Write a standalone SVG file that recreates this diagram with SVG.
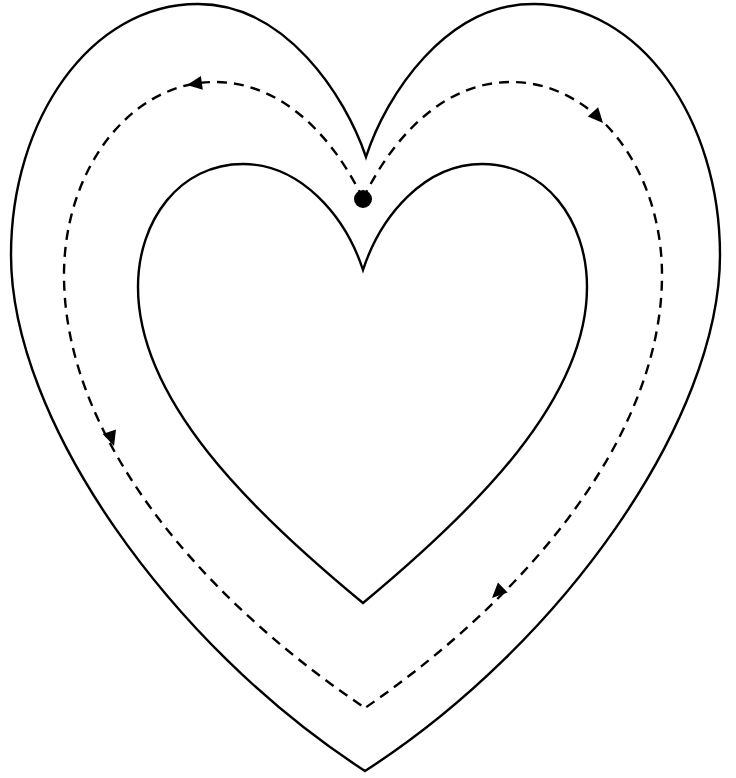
<svg xmlns="http://www.w3.org/2000/svg" xmlns:xlink="http://www.w3.org/1999/xlink" width="736" height="778" viewBox="0 0 736 778">
  <style>
    .heart { fill: none; stroke: #000; stroke-width: 2.4; stroke-linejoin: miter; }
    .flow { fill: none; stroke: #000; stroke-width: 2.4; stroke-dasharray: 10 7; }
    .head { fill: #000; stroke: none; }
  </style>
  <defs>
    <polygon id="arrow" class="head" points="0,0 -15,-7 -15,7"/>
  </defs>
  <rect width="736" height="778" fill="#fff"/>
  <g id="outer-heart">
    <path class="heart" d="M366,157 C345,95 285,4 198,4 C90,4 11,120 11,255 C11,420 170,645 365,771 C561,645 720,420 720,255 C720,120 641,4 533,4 C446,4 386,95 366,157 Z"/>
  </g>
  <g id="inner-heart">
    <path class="heart" d="M363,270 C345,215 300,164 243,164 C180,164 138,220 138,287 C138,400 250,510 363,603 C475,510 587,400 587,287 C587,220 545,164 482,164 C425,164 381,215 363,270 Z"/>
  </g>
  <g id="connectors">
    <path class="flow" d="M363,199 C340,150 290,82 215,82 C130,82 64,170 64,275 C64,430 190,590 365,708"/>
    <path class="flow" d="M363,199 C386,150 436,82 511,82 C596,82 662,170 662,275 C662,430 536,590 365,708"/>
    <use xlink:href="#arrow" transform="translate(187,85) rotate(172)"/>
    <use xlink:href="#arrow" transform="translate(603,123) rotate(48)"/>
    <use xlink:href="#arrow" transform="translate(114,446) rotate(72)"/>
    <use xlink:href="#arrow" transform="translate(492,598) rotate(136)"/>
  </g>
  <g id="start-dot">
    <circle cx="363" cy="199" r="9" fill="#000"/>
  </g>
</svg>
